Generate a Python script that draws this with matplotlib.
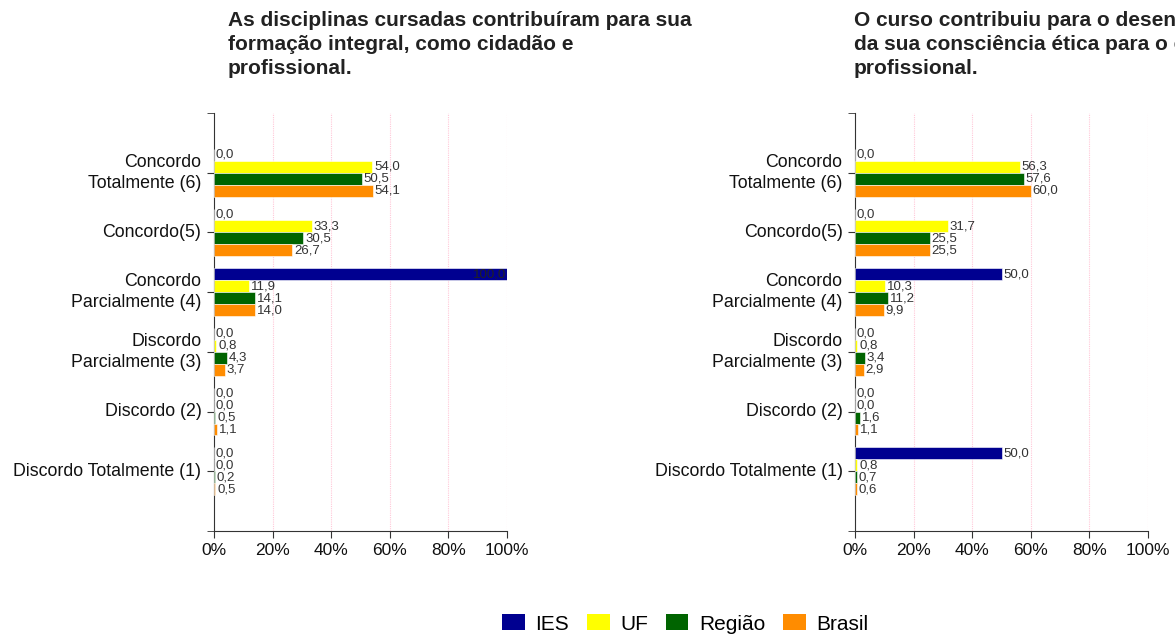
import matplotlib.pyplot as plt
from matplotlib.patches import Patch
import numpy as np

plt.rcParams['font.family'] = ['Liberation Sans', 'DejaVu Sans']

# categories, top to bottom
categorias = ["Concordo\nTotalmente (6)", "Concordo(5)", "Concordo\nParcialmente (4)",
              "Discordo\nParcialmente (3)", "Discordo (2)", "Discordo Totalmente (1)"]
series = ["IES", "UF", "Região", "Brasil"]
cores = ["#000090", "#FFFF00", "#006400", "#FF8C00"]

titulo1 = "As disciplinas cursadas contribuíram para sua\nformação integral, como cidadão e\nprofissional."
ies1 = [0.0, 0.0, 100.0, 0.0, 0.0, 0.0]
uf1 = [54.0, 33.3, 11.9, 0.8, 0.0, 0.0]
regiao1 = [50.5, 30.5, 14.1, 4.3, 0.5, 0.2]
brasil1 = [54.1, 26.7, 14.0, 3.7, 1.1, 0.5]

titulo2 = "O curso contribuiu para o desenvolvimento\nda sua consciência ética para o exercício\nprofissional."
ies2 = [0.0, 0.0, 50.0, 0.0, 0.0, 50.0]
uf2 = [56.3, 31.7, 10.3, 0.8, 0.0, 0.8]
regiao2 = [57.6, 25.5, 11.2, 3.4, 1.6, 0.7]
brasil2 = [60.0, 25.5, 9.9, 2.9, 1.1, 0.6]

xticks = [0, 20, 40, 60, 80, 100]
xticklabels = ["0%", "20%", "40%", "60%", "80%", "100%"]


def painel(ax, valores):
    y = np.arange(len(categorias))
    offs = [-0.3, -0.1, 0.1, 0.3]
    for s in range(len(series)):
        vals = valores[s]
        ax.barh(y + offs[s], vals, height=0.2, color=cores[s], edgecolor='white', linewidth=0.4, zorder=3)
        for i, v in enumerate(vals):
            txt = ("%.1f" % v).replace('.', ',')
            if v > 90:
                # no room on the right, put it inside the bar
                ax.text(v - 0.3, y[i] + offs[s], txt, ha='right', va='center', fontsize=9.5, color='#222222', zorder=4)
            else:
                ax.text(v + 0.6, y[i] + offs[s], txt, ha='left', va='center', fontsize=9.5, color='#333333', zorder=4)
    ax.set_ylim(6, -1)
    ax.set_xlim(0, 100)
    ax.set_yticks(y)
    ax.set_yticklabels(categorias, fontsize=12.8, linespacing=1.3, va='center')
    ax.set_yticks([-1, 6], minor=True)
    ax.set_xticks(xticks)
    ax.set_xticklabels(xticklabels, fontsize=12.5)
    ax.tick_params(axis='both', which='both', length=5, color='#333333', labelcolor='#111111')
    ax.tick_params(axis='y', pad=4)
    for sp in ['top', 'right']:
        ax.spines[sp].set_visible(False)
    ax.spines['left'].set_color('#333333')
    ax.spines['bottom'].set_color('#333333')
    # pink dotted gridlines
    for gx in xticks[1:]:
        ax.axvline(gx, color='#ffc8d8', linestyle=(0, (1, 1)), linewidth=0.8, zorder=1)


fig = plt.figure(figsize=(11.75, 6.37), dpi=100)
ax1 = fig.add_axes([0.1821, 0.1664, 0.2494, 0.6562])
ax2 = fig.add_axes([0.7277, 0.1664, 0.2494, 0.6562])

painel(ax1, [ies1, uf1, regiao1, brasil1])
painel(ax2, [ies2, uf2, regiao2, brasil2])

fig.text(228 / 1175, 1 - 11 / 637, titulo1, ha='left', va='top', fontsize=15, fontweight='bold', color='#222222', linespacing=1.35)
fig.text(854 / 1175, 1 - 11 / 637, titulo2, ha='left', va='top', fontsize=15, fontweight='bold', color='#222222', linespacing=1.35)

handles = [Patch(facecolor=c, edgecolor='none') for c in cores]
fig.legend(handles, series, loc='center', bbox_to_anchor=(0.583, 1 - 624 / 637), ncol=4, frameon=False,
           fontsize=15, handlelength=1.1, handleheight=0.8, columnspacing=0.85, handletextpad=0.5)

plt.savefig("out.png", dpi=100)
